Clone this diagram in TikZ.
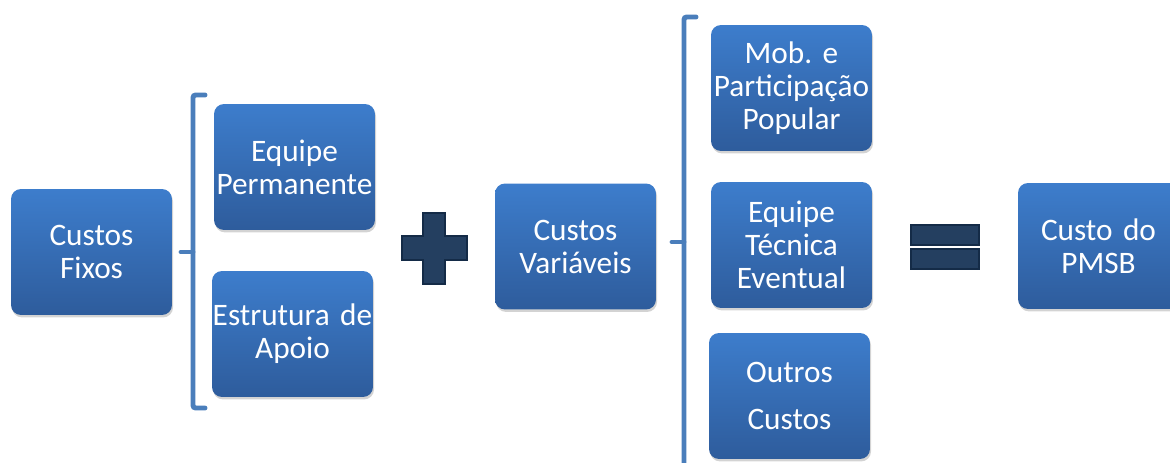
\documentclass[tikz,border=0pt]{standalone}
\usepackage{fontspec}
\setmainfont{Carlito}[WordSpace=0.8]
\frenchspacing
\usetikzlibrary{shadows}
\definecolor{BoxTop}{HTML}{3D7DCC}
\definecolor{BoxBottom}{HTML}{2E5C9C}
\definecolor{BraceBlue}{HTML}{4A7EBB}
\definecolor{SignFill}{HTML}{243F60}
\definecolor{SignLine}{HTML}{142B47}

\begin{document}
\begin{tikzpicture}[x=0.02cm, y=-0.02cm,
  costbox/.style={rounded corners=0.2cm, top color=BoxTop, bottom color=BoxBottom, inner sep=0pt, minimum width=3.22cm, minimum height=2.52cm, text width=3.2cm, align=center, text=white, font=\fontsize{17.8}{18.8}\selectfont, drop shadow={opacity=0.35, shadow xshift=0.6pt, shadow yshift=-1.4pt}},
  brace/.style={draw=BraceBlue, line width=2.8pt, line cap=round, rounded corners=1.5pt},
  sign/.style={fill=SignFill, draw=SignLine, line width=0.8pt}
]
\useasboundingbox (0,0) rectangle (1170,463);
\node[costbox] (fixos) at (91.5,252) {Custos\\Fixos};
\node[costbox] (permanente) at (294.5,167) {Equipe\\Permanente};
\node[costbox] (apoio) at (292.5,334) {Estrutura de\\Apoio};
\node[costbox] (variaveis) at (575.5,246.5) {Custos\\Variáveis};
\node[costbox] (mobilizacao) at (791.5,88) {Mob. e\\Participação\\Popular};
\node[costbox] (eventual) at (791.5,245) {Equipe\\Técnica\\Eventual};
\node[costbox, font=\fontsize{17.8}{26.6}\selectfont] (outros) at (789.5,396) {Outros\\Custos};
\node[costbox] (pmsb) at (1098.5,246) {Custo do\\PMSB};

\draw[brace] (205,95) -- (193,95) -- (193,408) -- (205,408);
\draw[brace] (193,252) -- (181,252);
\draw[brace] (696,17) -- (684,17) -- (684,475);
\draw[brace] (684,242) -- (672,242);

\draw[sign] (423,213) -- (445,213) -- (445,236) -- (467,236) -- (467,260) -- (445,260) -- (445,284) -- (423,284) -- (423,260) -- (402,260) -- (402,236) -- (423,236) -- cycle;
\draw[sign] (911,225) rectangle (979,245);
\draw[sign] (911,249) rectangle (979,269);
\end{tikzpicture}
\end{document}
